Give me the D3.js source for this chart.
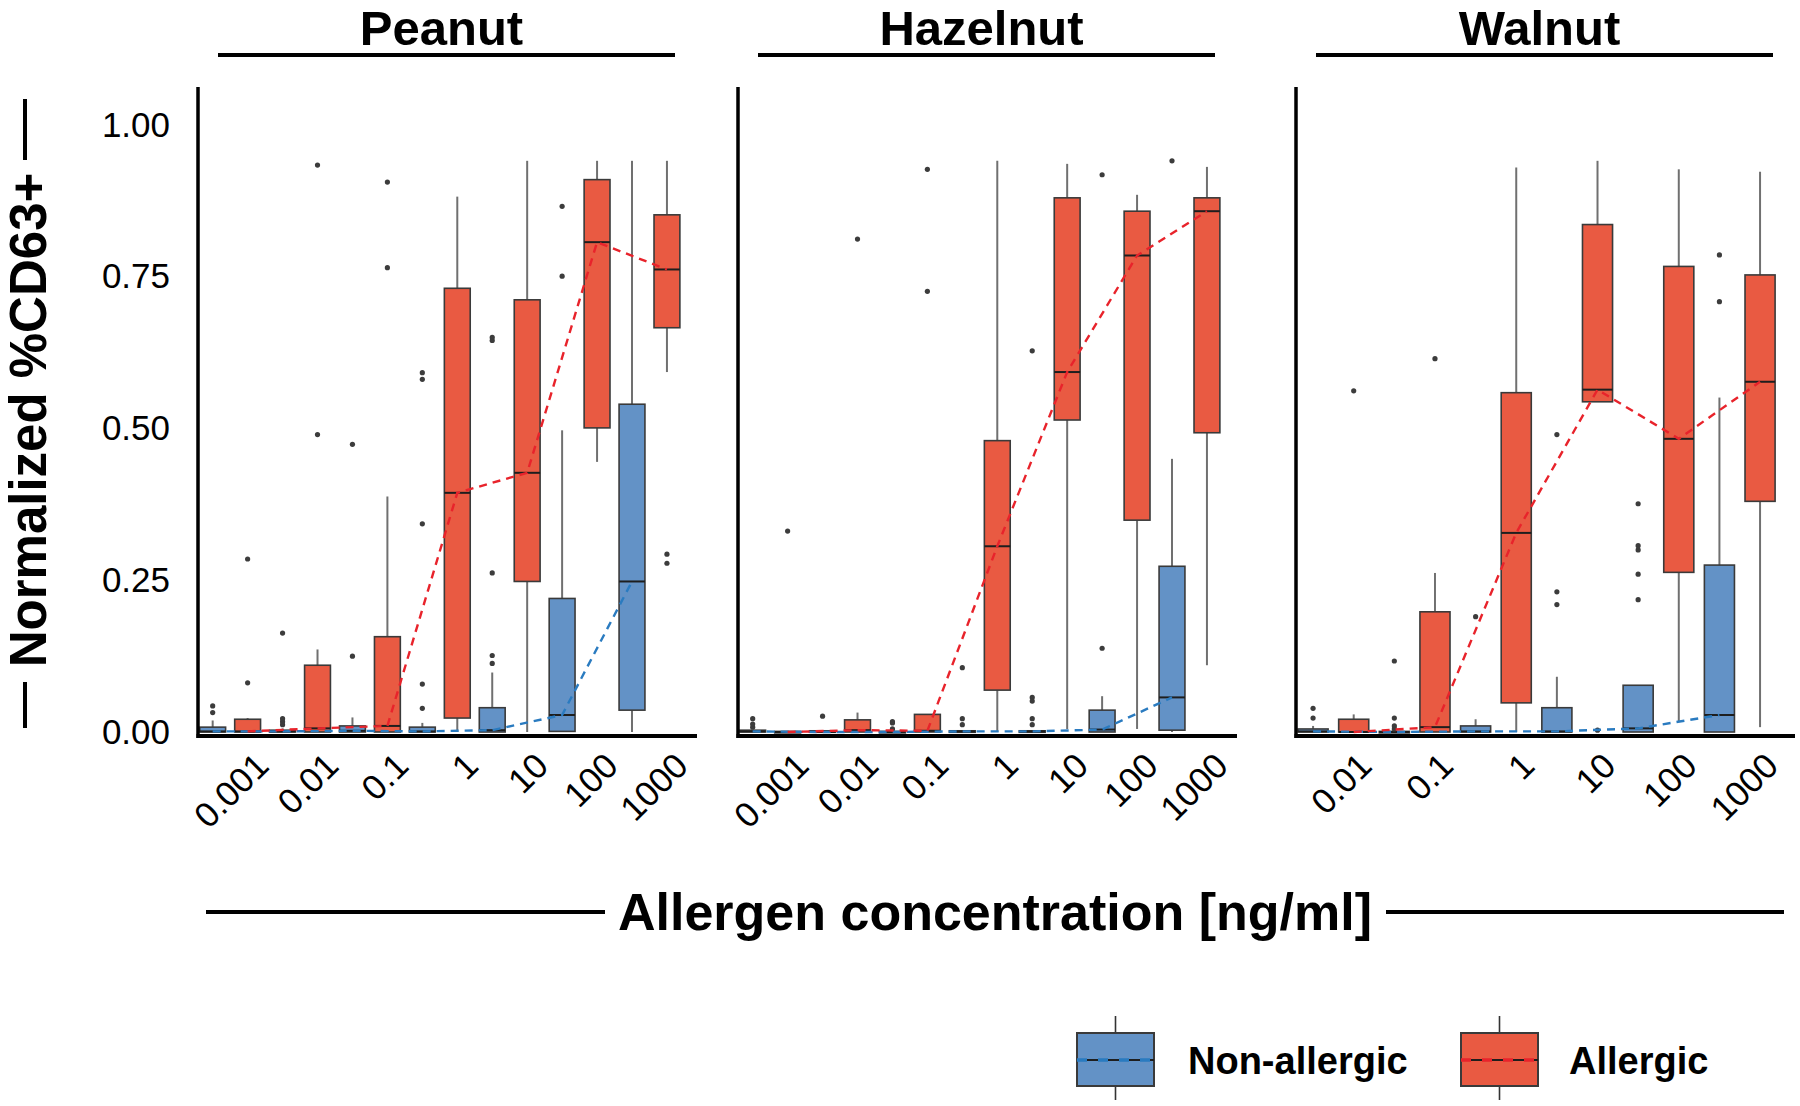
<!DOCTYPE html>
<html><head><meta charset="utf-8">
<script src="https://cdn.jsdelivr.net/npm/d3@7"></script>
<style>
body{margin:0;background:#fff}
svg{display:block}
text{font-family:"Liberation Sans",Arial,Helvetica,sans-serif;fill:#000}
</style>
</head><body>
<svg id="chart" width="1800" height="1106"></svg>
<script>
// ---------------- DATA ----------------
const panelNames = ["Peanut", "Hazelnut", "Walnut"];
const groupNames = ["Non-allergic", "Allergic"];
const yTickValues = [0, 0.25, 0.5, 0.75, 1];

const peanutConc   = ["0.001", "0.01", "0.1", "1", "10", "100", "1000"];
const hazelnutConc = ["0.001", "0.01", "0.1", "1", "10", "100", "1000"];
const walnutConc   = ["0.01", "0.1", "1", "10", "100", "1000"];

// box stats: [lower whisker, q1, median, q3, upper whisker]
const peanutNonAllergic = [
  [0, 0, 0.001, 0.008, 0.019],
  [0, 0, 0.001, 0.003, 0.006],
  [0, 0, 0.002, 0.010, 0.024],
  [0, 0, 0.001, 0.008, 0.015],
  [0, 0, 0.003, 0.040, 0.098],
  [0, 0.001, 0.028, 0.220, 0.497],
  [0, 0.036, 0.248, 0.540, 0.941]
];
const peanutNonAllergicOut = [
  [0.032, 0.043], [0.012, 0.017, 0.022, 0.163], [0.125, 0.474],
  [0.039, 0.079, 0.343, 0.581, 0.592], [0.113, 0.126, 0.262, 0.645, 0.650],
  [0.751, 0.866], []
];
const peanutAllergic = [
  [0, 0, 0.001, 0.021, 0.023],
  [0, 0, 0.006, 0.110, 0.136],
  [0, 0, 0.010, 0.157, 0.388],
  [0, 0.023, 0.394, 0.731, 0.882],
  [0, 0.248, 0.427, 0.712, 0.941],
  [0.445, 0.501, 0.807, 0.910, 0.941],
  [0.593, 0.666, 0.762, 0.852, 0.941]
];
const peanutAllergicOut = [
  [0.081, 0.285], [0.490, 0.934], [0.765, 0.906], [], [], [], [0.278, 0.293]
];

const hazelnutNonAllergic = [
  [0, 0, 0.001, 0.003, 0.003],
  [0, 0, 0.000, 0.002, 0.002],
  [0, 0, 0.000, 0.001, 0.001],
  [0, 0, 0.001, 0.002, 0.002],
  [0, 0, 0.001, 0.002, 0.002],
  [0, 0, 0.004, 0.036, 0.059],
  [0, 0.003, 0.057, 0.273, 0.450]
];
const hazelnutNonAllergicOut = [
  [0.008, 0.013, 0.022], [0.026], [0.005, 0.015, 0.017],
  [0.012, 0.022, 0.106], [0.012, 0.022, 0.051, 0.057, 0.628],
  [0.138, 0.918], [0.941]
];
const hazelnutAllergic = [
  [0, 0, 0.000, 0.001, 0.001],
  [0, 0, 0.003, 0.020, 0.032],
  [0, 0, 0.002, 0.029, 0.029],
  [0, 0.069, 0.306, 0.480, 0.941],
  [0.005, 0.514, 0.593, 0.880, 0.936],
  [0.005, 0.349, 0.785, 0.858, 0.885],
  [0.110, 0.493, 0.858, 0.880, 0.931]
];
const hazelnutAllergicOut = [
  [0.331], [0.812], [0.726, 0.927], [], [], [], []
];

const walnutNonAllergic = [
  [0, 0, 0.001, 0.005, 0.010],
  [0, 0, 0.000, 0.001, 0.001],
  [0, 0, 0.001, 0.010, 0.021],
  [0, 0, 0.001, 0.040, 0.091],
  [0, 0, 0.006, 0.077, 0.077],
  [0, 0, 0.028, 0.275, 0.551]
];
const walnutNonAllergicOut = [
  [0.023, 0.039], [0.005, 0.010, 0.023, 0.117], [0.190],
  [0.210, 0.231, 0.490], [0.218, 0.260, 0.300, 0.307, 0.376], [0.709, 0.786]
];
const walnutAllergic = [
  [0, 0, 0.000, 0.021, 0.029],
  [0, 0, 0.008, 0.198, 0.262],
  [0, 0.048, 0.328, 0.559, 0.930],
  [0.544, 0.544, 0.564, 0.836, 0.941],
  [0.017, 0.263, 0.483, 0.767, 0.927],
  [0.008, 0.380, 0.577, 0.753, 0.923]
];
const walnutAllergicOut = [
  [0.562], [0.615], [], [0.003], [], []
];

// ---------------- LAYOUT / STYLE ----------------
const panelConc = [peanutConc, hazelnutConc, walnutConc];
const panelStats = [
  [peanutNonAllergic, peanutAllergic],
  [hazelnutNonAllergic, hazelnutAllergic],
  [walnutNonAllergic, walnutAllergic]
];
const panelOut = [
  [peanutNonAllergicOut, peanutAllergicOut],
  [hazelnutNonAllergicOut, hazelnutAllergicOut],
  [walnutNonAllergicOut, walnutAllergicOut]
];
const panelLeft = [198, 738, 1296];
const panelW = 499;
const axisTop = 87, axisY = 736;
const fills = ["#6392C6", "#E95A42"];
const lineColors = ["#2A7BC0", "#E8232B"];
const boxStroke = "#3a3a3a", whiskerColor = "#707070", pointColor = "#3c3c3c";

const svg = d3.select("#chart");
const y = d3.scaleLinear().domain([0, 1]).range([732, 125]);

panelNames.forEach((name, p) => {
  const conc = panelConc[p];
  const n = conc.length;
  const left = panelLeft[p];
  const x = d3.scaleLinear().domain([-0.46, n - 1 + 0.68]).range([left, left + panelW]);
  const step = x(1) - x(0);
  const bw = 0.37 * step;
  const g = svg.append("g");

  // panel title + underline
  const lx0 = left + 20, lx1 = left + 477;
  g.append("line").attr("x1", lx0).attr("x2", lx1).attr("y1", 55).attr("y2", 55)
    .attr("stroke", "#000").attr("stroke-width", 4);
  g.append("text").attr("x", (lx0 + lx1) / 2 - 5).attr("y", 45)
    .attr("text-anchor", "middle").style("font-weight", "bold").style("font-size", "49px")
    .text(name);

  // groups
  [0, 1].forEach(gi => {
    const stats = panelStats[p][gi];
    const outs = panelOut[p][gi];
    const off = (gi === 0 ? -0.25 : 0.25);
    const cxs = stats.map((s, i) => x(i + off));
    const bg = g.append("g");
    const boxes = bg.selectAll("g.box").data(stats).join("g").attr("class", "box");
    boxes.append("line").attr("x1", (d, i) => cxs[i]).attr("x2", (d, i) => cxs[i])
      .attr("y1", d => y(d[3])).attr("y2", d => y(d[4]))
      .attr("stroke", whiskerColor).attr("stroke-width", 2);
    boxes.append("line").attr("x1", (d, i) => cxs[i]).attr("x2", (d, i) => cxs[i])
      .attr("y1", d => y(d[1])).attr("y2", d => y(d[0]))
      .attr("stroke", whiskerColor).attr("stroke-width", 2);
    boxes.append("rect").attr("x", (d, i) => cxs[i] - bw / 2).attr("width", bw)
      .attr("y", d => y(d[3])).attr("height", d => Math.max(1.5, y(d[1]) - y(d[3])))
      .attr("fill", fills[gi]).attr("stroke", boxStroke).attr("stroke-width", 1.6);
    boxes.append("line").attr("x1", (d, i) => cxs[i] - bw / 2).attr("x2", (d, i) => cxs[i] + bw / 2)
      .attr("y1", d => y(d[2])).attr("y2", d => y(d[2]))
      .attr("stroke", "#1e1e1e").attr("stroke-width", 2);
    outs.forEach((arr, i) => {
      bg.selectAll(null).data(arr).join("circle")
        .attr("cx", cxs[i]).attr("cy", v => y(v)).attr("r", 2.6).attr("fill", pointColor);
    });
  });
  // dashed median lines on top
  [0, 1].forEach(gi => {
    const stats = panelStats[p][gi];
    const off = (gi === 0 ? -0.25 : 0.25);
    const line = d3.line().x((d, i) => x(i + off)).y(d => y(d[2]));
    g.append("path").attr("d", line(stats)).attr("fill", "none")
      .attr("stroke", lineColors[gi]).attr("stroke-width", 2.4).attr("stroke-dasharray", "8,6");
  });

  // axes lines
  g.append("line").attr("x1", left).attr("x2", left).attr("y1", axisTop).attr("y2", axisY + 2)
    .attr("stroke", "#000").attr("stroke-width", 3.5);
  g.append("line").attr("x1", left - 1.5).attr("x2", left + panelW).attr("y1", axisY).attr("y2", axisY)
    .attr("stroke", "#000").attr("stroke-width", 4);

  // x axis labels
  const xa = d3.axisBottom(x).tickValues(d3.range(n)).tickFormat(i => conc[i]).tickSize(0);
  const xg = g.append("g").attr("transform", `translate(0,${axisY})`).call(xa);
  xg.select(".domain").remove();
  xg.selectAll("text").attr("y", 0).attr("dy", 0)
    .attr("transform", "translate(40,32) rotate(-45)")
    .style("text-anchor", "end").style("font-size", "35px").attr("fill", "#000")
    .style("font-family", "'Liberation Sans',Arial,sans-serif");

  if (p === 0) {
    const ya = d3.axisLeft(y).tickValues(yTickValues).tickFormat(d3.format(".2f")).tickSize(0).tickPadding(28);
    const yg = g.append("g").attr("transform", `translate(${left},0)`).call(ya);
    yg.select(".domain").remove();
    yg.selectAll("text").style("font-size", "35px").attr("fill", "#000")
      .style("font-family", "'Liberation Sans',Arial,sans-serif");
  }
});

// y-axis title with lines
svg.append("text").attr("transform", "translate(46,420) rotate(-90)")
  .attr("text-anchor", "middle").style("font-weight", "bold").style("font-size", "51px")
  .text("Normalized %CD63+");
svg.append("line").attr("x1", 25).attr("x2", 25).attr("y1", 99).attr("y2", 160).attr("stroke", "#000").attr("stroke-width", 4);
svg.append("line").attr("x1", 25).attr("x2", 25).attr("y1", 682).attr("y2", 728).attr("stroke", "#000").attr("stroke-width", 4);

// x-axis title with lines
svg.append("text").attr("x", 995).attr("y", 930).attr("text-anchor", "middle")
  .style("font-weight", "bold").style("font-size", "52px").text("Allergen concentration [ng/ml]");
svg.append("line").attr("x1", 206).attr("x2", 605).attr("y1", 912).attr("y2", 912).attr("stroke", "#000").attr("stroke-width", 4);
svg.append("line").attr("x1", 1386).attr("x2", 1784).attr("y1", 912).attr("y2", 912).attr("stroke", "#000").attr("stroke-width", 4);

// legend
const legX = [1077, 1461];
const legTextX = [1188, 1569];
groupNames.forEach((nm, gi) => {
  const lg = svg.append("g");
  const bx = legX[gi], bwid = 77;
  lg.append("line").attr("x1", bx + bwid / 2).attr("x2", bx + bwid / 2).attr("y1", 1016).attr("y2", 1100)
    .attr("stroke", "#333").attr("stroke-width", 1.6);
  lg.append("rect").attr("x", bx).attr("y", 1033).attr("width", bwid).attr("height", 53)
    .attr("fill", fills[gi]).attr("stroke", boxStroke).attr("stroke-width", 2);
  lg.append("line").attr("x1", bx).attr("x2", bx + bwid).attr("y1", 1060).attr("y2", 1060)
    .attr("stroke", "#1e1e1e").attr("stroke-width", 2);
  lg.append("line").attr("x1", bx).attr("x2", bx + bwid).attr("y1", 1060).attr("y2", 1060)
    .attr("stroke", lineColors[gi]).attr("stroke-width", 3.5).attr("stroke-dasharray", "10,11");
  lg.append("text").attr("x", legTextX[gi]).attr("y", 1074)
    .style("font-weight", "bold").style("font-size", "38px").text(nm);
});
</script>
</body></html>
